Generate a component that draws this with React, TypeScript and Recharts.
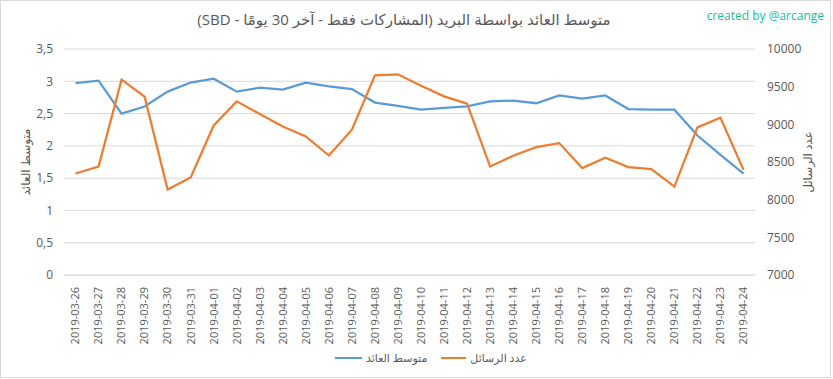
import React from 'react';
import { LineChart, Line, XAxis, YAxis, CartesianGrid } from 'recharts';

const dates = [
  '2019-03-26', '2019-03-27', '2019-03-28', '2019-03-29', '2019-03-30', '2019-03-31',
  '2019-04-01', '2019-04-02', '2019-04-03', '2019-04-04', '2019-04-05', '2019-04-06',
  '2019-04-07', '2019-04-08', '2019-04-09', '2019-04-10', '2019-04-11', '2019-04-12',
  '2019-04-13', '2019-04-14', '2019-04-15', '2019-04-16', '2019-04-17', '2019-04-18',
  '2019-04-19', '2019-04-20', '2019-04-21', '2019-04-22', '2019-04-23', '2019-04-24',
];

// متوسط العائد (left axis)
const avgReturn = [
  2.97, 3.01, 2.5, 2.61, 2.84, 2.98, 3.04, 2.84, 2.9, 2.87, 2.98, 2.92, 2.88, 2.67, 2.62,
  2.56, 2.59, 2.61, 2.69, 2.7, 2.66, 2.78, 2.73, 2.78, 2.57, 2.56, 2.56, 2.16, 1.86, 1.57,
];

// عدد الرسائل (right axis)
const messageCount = [
  8347, 8440, 9593, 9367, 8134, 8294, 8985, 9305, 9137, 8972, 8839, 8586, 8928, 9650, 9664,
  9513, 9371, 9274, 8440, 8582, 8698, 8751, 8419, 8556, 8432, 8406, 8174, 8959, 9088, 8396,
];

const leftTicks = [0, 0.5, 1, 1.5, 2, 2.5, 3, 3.5];
const rightTicks = [7000, 7500, 8000, 8500, 9000, 9500, 10000];

const data = dates.map((d, i) => ({ date: d, avg: avgReturn[i], count: messageCount[i] }));

const FONT = '"Open Sans", "DejaVu Sans", sans-serif';
const GREY = '#595959';
const BLUE = '#5b9bd5';
const ORANGE = '#ed7d31';

const DateTick = (props: any) => {
  const { x, y, payload } = props;
  return (
    <text
      x={x}
      y={y}
      transform={`rotate(-90, ${x}, ${y})`}
      textAnchor="end"
      dy="0.35em"
      fill={GREY}
      fontSize={11}
      fontFamily={FONT}
    >
      {payload.value}
    </text>
  );
};

const App: React.FC = () => {
  return (
    <div style={{ position: 'absolute', left: 0, top: 0, width: 833, height: 379, background: '#fff', fontFamily: FONT }}>
      <div style={{ position: 'absolute', left: 0, top: 0, width: 829, height: 376, border: '1px solid #d9d9d9' }} />
      <div dir="rtl" style={{ position: 'absolute', left: 0, width: 808, top: 9, textAlign: 'center', fontSize: 15, color: GREY, whiteSpace: 'nowrap' }}>
        متوسط العائد بواسطة البريد (المشاركات فقط - آخر 30 يومًا - SBD)
      </div>
      <div style={{ position: 'absolute', right: 9, top: 7, fontSize: 12, color: '#1abc9c' }}>created by @arcange</div>
      <div dir="rtl" style={{ position: 'absolute', left: 25, top: 162, transform: 'translate(-50%, -50%) rotate(-90deg)', fontSize: 12, color: GREY, whiteSpace: 'nowrap' }}>
        متوسط العائد
      </div>
      <div dir="rtl" style={{ position: 'absolute', left: 807, top: 162, transform: 'translate(-50%, -50%) rotate(-90deg)', fontSize: 12, color: GREY, whiteSpace: 'nowrap' }}>
        عدد الرسائل
      </div>

      <LineChart width={833} height={379} data={data} margin={{ top: 49, right: 0, left: 0, bottom: 0 }}>
        <CartesianGrid yAxisId="left" horizontal vertical={false} stroke="#d9d9d9" />
        <XAxis
          dataKey="date"
          interval={0}
          height={104}
          padding={{ left: 11.5, right: 11.5 }}
          axisLine={{ stroke: '#d9d9d9' }}
          tickLine={false}
          tick={<DateTick />}
          tickMargin={6}
        />
        <YAxis
          yAxisId="left"
          width={64}
          domain={[0, 3.5]}
          ticks={leftTicks}
          axisLine={false}
          tickLine={false}
          tickMargin={5}
          tickFormatter={(v: number) => String(v).replace('.', ',')}
          tick={{ fill: GREY, fontSize: 12, fontFamily: FONT }}
        />
        <YAxis
          yAxisId="right"
          orientation="right"
          width={78}
          domain={[7000, 10000]}
          ticks={rightTicks}
          axisLine={false}
          tickLine={false}
          tickMargin={6}
          tick={{ fill: GREY, fontSize: 12, fontFamily: FONT }}
        />
        <Line yAxisId="left" dataKey="avg" stroke={BLUE} strokeWidth={2.25} dot={false} isAnimationActive={false} />
        <Line yAxisId="right" dataKey="count" stroke={ORANGE} strokeWidth={2.25} dot={false} isAnimationActive={false} />
      </LineChart>

      <div style={{ position: 'absolute', left: 335, top: 350, display: 'flex', alignItems: 'center', fontSize: 11, color: GREY }}>
        <div style={{ width: 27, height: 2, background: BLUE, marginRight: 4 }} />
        <span dir="rtl">متوسط العائد</span>
        <div style={{ width: 25, height: 2, background: ORANGE, marginLeft: 14, marginRight: 4 }} />
        <span dir="rtl">عدد الرسائل</span>
      </div>
    </div>
  );
};

export default App;
